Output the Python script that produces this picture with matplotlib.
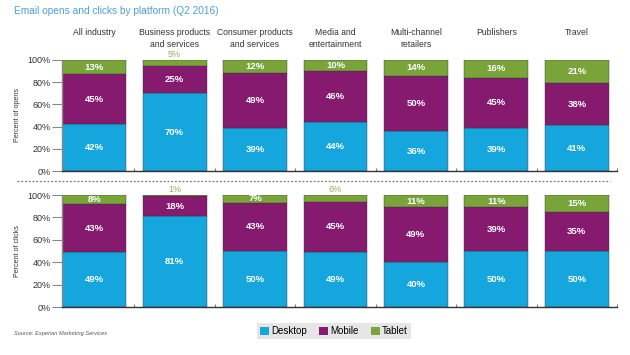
import numpy as np
import matplotlib.pyplot as plt
from matplotlib.patches import Patch

plt.rcParams['font.family'] = ['Liberation Sans', 'DejaVu Sans']

categories = ['All industry', 'Business products\nand services', 'Consumer products\nand services',
              'Media and\nentertainment', 'Multi-channel\nretailers', 'Publishers', 'Travel']
platforms = ['Desktop', 'Mobile', 'Tablet']

opens_desktop = [42, 70, 39, 44, 36, 39, 41]
opens_mobile = [45, 25, 49, 46, 50, 45, 38]
opens_tablet = [13, 5, 12, 10, 14, 16, 21]

clicks_desktop = [49, 81, 50, 49, 40, 50, 50]
clicks_mobile = [43, 18, 43, 45, 49, 39, 35]
clicks_tablet = [8, 1, 7, 6, 11, 11, 15]

colors = ['#14a6dc', '#861a6e', '#78a43a']
title_color = '#4d9fd6'

fig = plt.figure(figsize=(6.3, 3.55), dpi=100)
ax_top = fig.add_axes([0.0984, 0.5183, 0.881, 0.3127])
ax_bot = fig.add_axes([0.0984, 0.1352, 0.881, 0.3155])

x = np.arange(len(categories))
w = 0.795


def draw(ax, series, ylabel):
    bottom = np.zeros(len(x))
    for vals, col in zip(series, colors):
        vals = np.array(vals, dtype=float)
        ax.bar(x, vals, w, bottom=bottom, color=col, align='center',
               edgecolor='#3a3a3a', linewidth=0.3)
        for xi, b, v in zip(x, bottom, vals):
            if v >= 7:
                ax.text(xi, b + v / 2, f'{int(v)}%', ha='center', va='center',
                        color='white', fontsize=6.8, fontweight='bold')
            else:
                ax.text(xi, 101, f'{int(v)}%', ha='center', va='bottom',
                        color='#8fb05a', fontsize=6.5)
        bottom += vals
    ax.set_xlim(-0.4, 6.5)
    ax.set_ylim(0, 100)
    ax.set_yticks([0, 20, 40, 60, 80, 100])
    ax.set_yticklabels([f'{t}%' for t in range(0, 101, 20)], fontsize=6.5, color='#333333')
    ax.set_xticks(x + 0.5)
    ax.set_xticklabels([])
    ax.tick_params(axis='x', direction='in', length=2, color='#777777')
    ax.tick_params(axis='y', length=7, width=0.8, color='#888888', pad=1)
    for s in ['top', 'right']:
        ax.spines[s].set_visible(False)
    ax.spines['left'].set_color('#888888')
    ax.spines['left'].set_linewidth(1.0)
    ax.spines['bottom'].set_color('#333333')
    ax.spines['bottom'].set_linewidth(1.0)
    ax.set_ylabel(ylabel, fontsize=5.1, color='#333333', labelpad=5)


draw(ax_top, [opens_desktop, opens_mobile, opens_tablet], 'Percent of opens')
draw(ax_bot, [clicks_desktop, clicks_mobile, clicks_tablet], 'Percent of clicks')

for xi, cat in zip(x, categories):
    ax_top.text(xi, 129, cat, ha='center', va='top', fontsize=6.2, color='#333333',
                linespacing=1.45)

fig.text(14 / 630, 1 - 11 / 355, 'Email opens and clicks by platform (Q2 2016)',
         ha='left', va='center', fontsize=7.3, color=title_color)

fig.add_artist(plt.Line2D([17 / 630, 610 / 630], [1 - 181 / 355] * 2,
                          transform=fig.transFigure, color='#777777',
                          linestyle=(0, (1.5, 1.5)), linewidth=0.9))

fig.text(14 / 630, 1 - 333 / 355, 'Source: Experian Marketing Services', ha='left', va='center',
         fontsize=4.1, style='italic', color='#555555')

handles = [Patch(facecolor=c, edgecolor='none') for c in colors]
leg = fig.legend(handles, platforms, loc='center', bbox_to_anchor=(334 / 630, 1 - 331 / 355),
                 ncol=3, fontsize=7, frameon=True, facecolor='#e6e6e6', edgecolor='none',
                 fancybox=False, handlelength=0.9, handleheight=0.9, handletextpad=0.2,
                 columnspacing=1.3, borderpad=0.35)
leg.get_frame().set_alpha(1)

fig.savefig('out.png', dpi=100)
